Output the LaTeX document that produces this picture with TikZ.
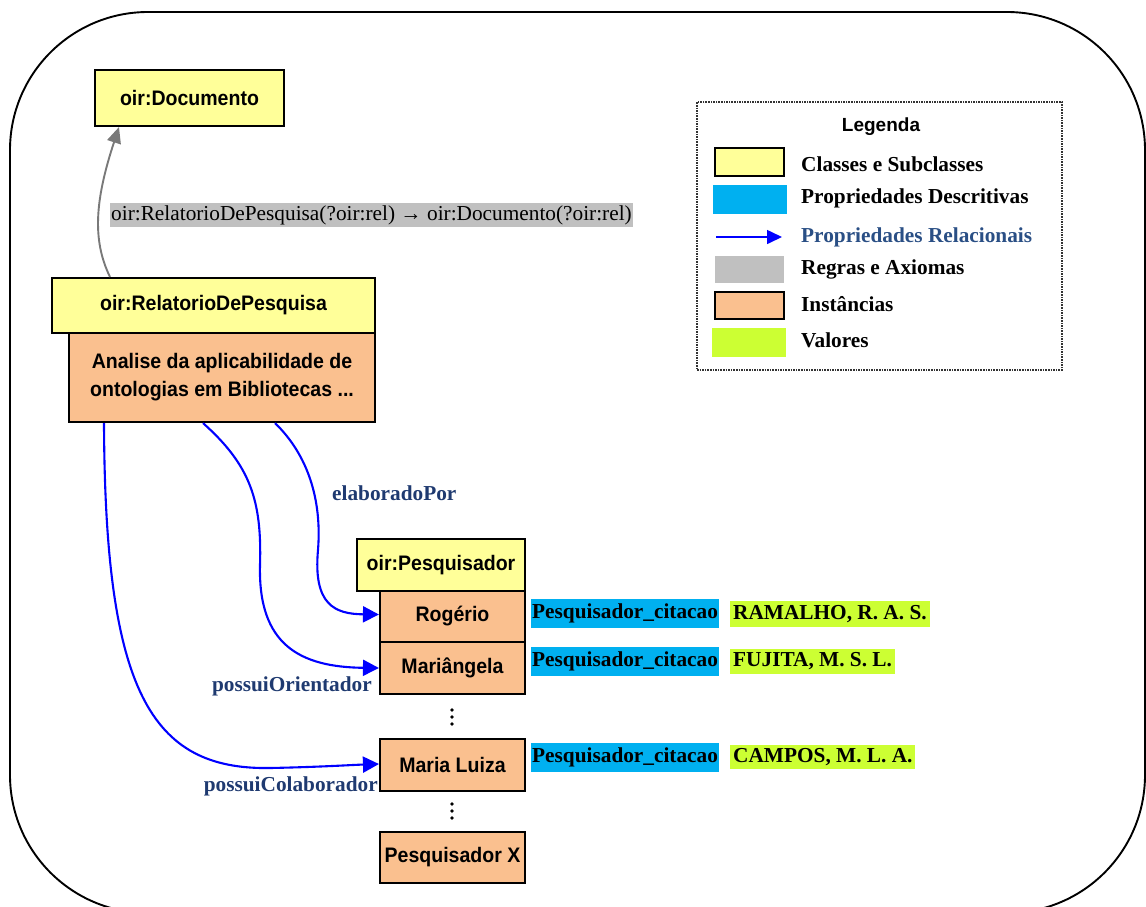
\documentclass[tikz,border=0pt]{standalone}
\usepackage{fontspec}
\setmainfont{Liberation Serif}
\newfontfamily\arialf{Liberation Sans}
\newfontfamily\arialn{Liberation Sans}[FakeStretch=0.93]
\usetikzlibrary{arrows.meta,calc}
\definecolor{clsyellow}{HTML}{FFFF99}
\definecolor{instorange}{HTML}{FAC08F}
\definecolor{descblue}{HTML}{00B0F0}
\definecolor{valgreen}{HTML}{CCFF33}
\definecolor{rulegray}{HTML}{C0C0C0}
\definecolor{navylbl}{HTML}{1F3A70}
\definecolor{legnavy}{HTML}{2A4F85}
\begin{document}
\begin{tikzpicture}[x=1pt,y=-1pt,
  box/.style={draw=black, line width=2.1pt, inner sep=0pt, align=center,
    font=\arialn\bfseries\fontsize{21}{28}\selectfont},
  clsbox/.style={box, fill=clsyellow},
  instbox/.style={box, fill=instorange},
  serb/.style={font=\bfseries\fontsize{21.3}{24}\selectfont},
  relarrow/.style={draw=blue, line width=2.1pt, -{Triangle[length=16pt,width=16pt]}},
  rellabel/.style={serb, text=navylbl, inner sep=0pt},
  descbox/.style={serb, fill=descblue, inner xsep=1pt, inner ysep=0pt, minimum height=29pt, anchor=west},
  valbox/.style={serb, fill=valgreen, inner xsep=3pt, inner ysep=0pt, anchor=west},
  legtext/.style={serb, anchor=west, inner sep=0pt},
  swatch/.style={inner sep=0pt, minimum width=70pt, minimum height=28pt},
  vdot/.style={fill=black, circle, inner sep=0pt, minimum size=3.8pt}
]
\useasboundingbox (0,0) rectangle (1146,906);
\clip (0,0) rectangle (1146,906);
% outer frame
\draw[line width=1.9pt, rounded corners=138pt] (10,12) rectangle (1145,913);

% class boxes
\node[clsbox, minimum width=189pt, minimum height=56pt] (doc) at (189.5,98) {oir:Documento};
\node[clsbox, minimum width=323pt, minimum height=55pt] (relcls) at (213.5,305.5) {oir:RelatorioDePesquisa};
\node[instbox, minimum width=306pt, minimum height=89pt] (relinst) at (222,377.5)
  {Analise da aplicabilidade de\\ontologias em Bibliotecas ...};

% rule
\draw[draw=gray!95!black, line width=1.9pt, -{Triangle[length=16pt,width=14pt]}]
  ([xshift=-103.5pt]relcls.north) .. controls (92,240) and (95,200) .. ([xshift=-70.5pt]doc.south);
\node[fill=rulegray, anchor=west, inner xsep=1pt, inner ysep=0pt, minimum height=24pt,
  font=\fontsize{21.3}{24}\selectfont] (rule) at (110,215)
  {oir:RelatorioDePesquisa(?oir:rel) → oir:Documento(?oir:rel)};

% researcher column
\node[clsbox, minimum width=168pt, minimum height=52pt] (pcls) at (441,565) {oir:Pesquisador};
\node[instbox, minimum width=145pt, minimum height=51pt] (rog) at (452.5,616.5) {Rogério};
\node[instbox, minimum width=145pt, minimum height=52pt] (mar) at (452.5,668) {Mariângela};
\node[instbox, minimum width=145pt, minimum height=52pt] (ml) at (452.5,765) {Maria Luiza};
\node[instbox, minimum width=145pt, minimum height=51pt] (px) at (452.5,857.5) {Pesquisador X};

\node[vdot] (d1) at (452,710) {};
\node[vdot] (d2) at (452,717) {};
\node[vdot] (d3) at (452,724) {};
\node[vdot] (d4) at (452,804) {};
\node[vdot] (d5) at (452,811) {};
\node[vdot] (d6) at (452,818) {};

% descriptive properties and values
\node[descbox] (c1) at (531,613.5) {Pesquisador\_citacao};
\node[descbox] (c2) at (531,661.5) {Pesquisador\_citacao};
\node[descbox] (c3) at (531,757.5) {Pesquisador\_citacao};
\node[valbox, minimum height=26pt] (v1) at (730,614) {RAMALHO, R. A. S.};
\node[valbox, minimum height=25pt] (v2) at (730,661.5) {FUJITA, M. S. L.};
\node[valbox, minimum height=24pt] (v3) at (730,757) {CAMPOS, M. L. A.};

% relational properties
\draw[relarrow] ([xshift=53pt]relinst.south) .. controls (308,455) and (322,500) .. (318,550)
  .. controls (313,605) and (335,614) .. ([yshift=2pt]rog.west);
\draw[relarrow] ([xshift=-19pt]relinst.south) .. controls (250,465) and (262,500) .. (260,565)
  .. controls (258,645) and (300,667) .. (mar.west);
\draw[relarrow] ([xshift=-118pt]relinst.south) .. controls (105,690) and (150,770) .. (270,768)
  .. controls (320,767) and (350,765) .. ([yshift=1pt]ml.west);
\node[rellabel, anchor=west] (lelab) at (332,493) {elaboradoPor};
\node[rellabel, anchor=east] (lori) at (372,686) {possuiOrientador};
\node[rellabel, anchor=east] (lcol) at (378,786) {possuiColaborador};

% legend
\node[draw=black!80, densely dotted, line width=1.6pt, minimum width=365pt, minimum height=268pt, inner sep=0pt]
  (legend) at (879.5,236) {};
\node[font=\arialf\bfseries\fontsize{19}{21}\selectfont, inner sep=0pt] (legtitle) at (881,127) {Legenda};
\node[swatch, fill=clsyellow, draw=black, line width=2pt, minimum width=69pt, minimum height=28pt] (s1) at (749.5,162) {};
\node[swatch, fill=descblue, minimum width=74pt, minimum height=29pt] (s2) at (750,199.5) {};
\coordinate (a1) at (716,237);
\coordinate (a2) at (782,237);
\draw[relarrow, line width=1.6pt, -{Triangle[length=15pt,width=14pt]}] (a1) -- (a2);
\node[swatch, fill=rulegray, minimum width=69pt, minimum height=27pt] (s4) at (749.5,269.5) {};
\node[swatch, fill=instorange, draw=black, line width=2pt, minimum width=69pt, minimum height=27pt] (s5) at (749.5,305.5) {};
\node[swatch, fill=valgreen, minimum width=74pt, minimum height=29pt] (s6) at (749,342.5) {};
\node[legtext] (t1) at (801,164) {Classes e Subclasses};
\node[legtext] (t2) at (801,198) {Propriedades Descritivas};
\node[legtext, text=legnavy] (t3) at (801,237) {Propriedades Relacionais};
\node[legtext] (t4) at (801,269) {Regras e Axiomas};
\node[legtext] (t5) at (801,304) {Instâncias};
\node[legtext] (t6) at (801,340) {Valores};
\end{tikzpicture}
\end{document}
